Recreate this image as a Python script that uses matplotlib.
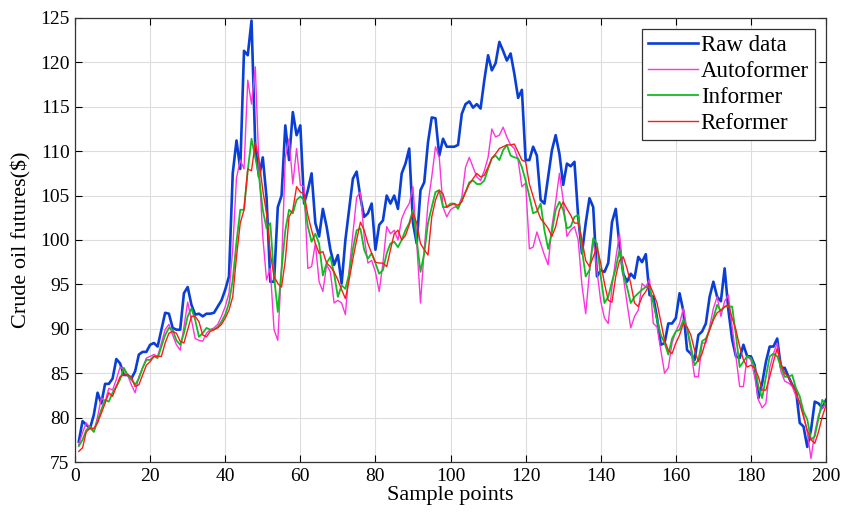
import matplotlib
matplotlib.use("Agg")
import matplotlib.pyplot as plt
import numpy as np

sample = list(range(1, 201))

raw = [
77.3, 79.6, 79.2, 78.8, 80.3, 82.8, 81.6, 83.8, 83.8, 84.4,
86.6, 86.1, 84.8, 84.8, 84.4, 85.2, 87.1, 87.4, 87.4, 88.2,
88.4, 88.0, 89.9, 91.8, 91.7, 90.1, 89.9, 89.9, 94.0, 94.7,
92.7, 91.6, 91.7, 91.4, 91.7, 91.7, 91.8, 92.5, 93.2, 94.4,
95.9, 107.5, 111.2, 108.0, 121.3, 120.8, 124.7, 110.5, 107.1, 109.3,
104.8, 95.3, 95.3, 103.7, 105.0, 112.9, 109.0, 114.4, 111.8, 112.9,
104.1, 105.6, 107.5, 101.9, 100.4, 103.5, 101.5, 98.9, 97.2, 98.3,
95.1, 100.0, 103.4, 106.9, 107.7, 104.8, 102.6, 103.0, 104.1, 98.9,
101.7, 102.2, 105.0, 104.1, 105.0, 103.5, 107.5, 108.6, 110.3, 101.9,
99.6, 105.6, 106.5, 111.0, 113.8, 113.7, 109.5, 111.4, 110.5, 110.5,
110.5, 110.7, 114.2, 115.3, 115.6, 114.9, 115.3, 114.8, 118.0, 120.8,
119.1, 119.9, 122.3, 121.3, 120.2, 121.0, 118.7, 116.0, 116.9, 109.0,
109.0, 110.5, 109.5, 104.5, 104.1, 107.1, 110.1, 111.8, 109.7, 106.2,
108.6, 108.3, 108.8, 102.6, 98.5, 101.9, 104.7, 103.7, 95.9, 96.6,
96.4, 97.4, 102.0, 103.5, 99.4, 96.2, 95.3, 96.2, 95.7, 98.1,
97.5, 98.4, 93.8, 93.6, 91.2, 88.2, 88.4, 90.6, 90.6, 91.2,
94.0, 92.0, 87.6, 87.2, 86.5, 89.3, 89.7, 90.6, 93.6, 95.3,
93.6, 93.1, 96.8, 92.1, 88.8, 86.9, 86.7, 88.2, 86.9, 86.9,
85.9, 82.2, 83.9, 86.3, 88.0, 88.0, 88.9, 85.6, 85.6, 84.6,
83.7, 83.1, 79.4, 79.0, 76.7, 78.6, 81.8, 81.6, 81.1, 82.0,
]

autoformer = [
77.0, 78.3, 79.4, 78.8, 78.4, 80.1, 82.2, 81.8, 83.3, 83.1,
84.3, 85.7, 85.4, 84.8, 83.7, 82.8, 84.6, 85.6, 86.7, 86.9,
87.1, 86.9, 88.4, 89.9, 90.5, 89.3, 88.2, 87.6, 90.2, 93.0,
91.0, 88.9, 88.7, 88.6, 89.5, 89.9, 90.1, 90.5, 91.4, 92.5,
94.0, 99.0, 107.0, 109.0, 108.0, 118.0, 115.3, 119.5, 108.2, 100.4,
95.5, 96.8, 89.9, 88.7, 97.0, 109.3, 111.4, 106.3, 110.3, 106.2,
106.0, 96.8, 97.0, 99.6, 95.3, 94.2, 97.2, 96.4, 92.9, 93.2,
92.9, 91.6, 96.6, 100.7, 104.8, 105.4, 100.4, 97.4, 97.7, 96.4,
94.2, 97.4, 101.5, 100.7, 101.1, 100.0, 102.4, 103.4, 104.1, 106.0,
99.6, 92.9, 98.9, 104.1, 107.1, 110.5, 109.3, 103.7, 102.6, 103.4,
103.7, 103.7, 104.8, 108.2, 109.3, 108.2, 107.1, 106.7, 107.8, 109.3,
112.5, 111.6, 111.8, 112.7, 111.6, 110.7, 110.3, 109.0, 106.0, 106.4,
99.0, 99.2, 100.9, 99.6, 98.3, 97.2, 101.5, 104.3, 107.5, 104.5,
100.4, 101.1, 101.5, 100.0, 94.9, 91.7, 96.4, 100.0, 96.6, 93.1,
91.2, 90.6, 94.7, 97.9, 100.7, 95.9, 92.9, 90.1, 91.4, 92.1,
95.1, 94.7, 95.6, 90.6, 90.2, 87.6, 85.0, 85.6, 88.4, 89.7,
90.6, 92.3, 89.9, 87.6, 84.6, 84.6, 88.4, 88.4, 90.2, 92.3,
93.6, 91.4, 93.1, 93.8, 90.2, 86.9, 83.5, 83.5, 86.9, 86.5,
84.6, 82.0, 81.1, 81.6, 85.6, 87.2, 88.4, 85.2, 84.1, 83.9,
83.5, 82.4, 81.8, 80.3, 78.3, 75.4, 78.3, 80.3, 81.1, 81.6,
]

informer = [
76.8, 77.5, 78.6, 79.0, 78.4, 79.6, 80.9, 82.0, 81.8, 82.8,
83.5, 84.3, 85.6, 84.8, 84.3, 83.7, 84.4, 85.6, 86.5, 86.5,
86.9, 86.7, 88.0, 89.3, 90.1, 89.9, 88.7, 88.2, 89.5, 91.4,
92.3, 91.0, 89.1, 89.5, 90.1, 89.9, 89.9, 90.2, 90.8, 91.6,
92.9, 95.5, 99.8, 103.4, 103.4, 107.8, 111.4, 109.3, 107.1, 103.4,
101.3, 101.9, 95.9, 91.9, 96.6, 101.1, 103.4, 103.0, 104.5, 104.9,
104.5, 101.5, 99.8, 100.7, 99.6, 96.0, 97.4, 98.1, 96.2, 93.6,
94.9, 94.5, 96.2, 99.0, 101.1, 101.3, 98.9, 97.9, 98.5, 97.4,
96.2, 96.6, 98.5, 99.6, 99.8, 99.2, 100.0, 101.1, 101.9, 103.4,
100.0, 96.4, 98.5, 101.9, 103.7, 105.4, 105.6, 103.7, 103.7, 104.1,
104.1, 103.5, 104.5, 105.4, 106.5, 106.7, 106.3, 106.3, 106.7, 108.0,
109.2, 109.5, 109.0, 110.1, 110.7, 109.5, 109.3, 109.2, 108.2, 106.7,
104.9, 103.0, 103.2, 104.1, 101.1, 99.0, 100.9, 103.4, 104.3, 103.4,
101.3, 101.5, 102.6, 102.8, 98.9, 95.9, 96.6, 100.2, 99.6, 95.9,
92.9, 93.6, 95.3, 96.8, 98.9, 96.2, 94.7, 92.9, 93.6, 94.0,
94.4, 94.7, 94.7, 92.9, 91.0, 89.3, 88.4, 87.1, 88.9, 89.7,
89.9, 91.0, 90.1, 88.0, 85.9, 86.5, 88.6, 88.9, 89.9, 91.2,
92.7, 92.0, 92.5, 92.5, 92.5, 89.3, 85.7, 86.3, 86.9, 86.7,
85.7, 83.5, 82.2, 84.6, 86.9, 87.2, 86.9, 85.7, 84.6, 84.6,
84.8, 83.3, 82.4, 80.7, 79.8, 77.5, 77.9, 79.9, 82.0, 81.4,
]

reformer = [
76.2, 76.6, 78.4, 78.8, 78.8, 79.4, 80.5, 81.6, 82.8, 82.4,
83.5, 84.6, 84.8, 84.8, 84.6, 83.5, 83.7, 84.8, 85.9, 86.3,
86.9, 86.9, 86.9, 88.4, 89.5, 89.7, 89.5, 88.6, 88.4, 89.9,
91.4, 91.4, 90.8, 89.3, 89.1, 89.7, 89.9, 90.1, 90.5, 91.2,
92.1, 93.6, 98.1, 101.9, 103.4, 108.0, 107.8, 111.0, 109.0, 105.6,
103.0, 98.5, 95.9, 95.1, 94.7, 97.7, 102.6, 103.4, 106.0, 105.4,
105.2, 102.8, 101.1, 99.6, 98.5, 98.7, 97.4, 97.0, 96.4, 95.5,
94.4, 93.4, 95.5, 97.9, 100.0, 102.0, 101.1, 99.6, 98.5, 97.5,
97.4, 97.4, 97.0, 98.9, 100.7, 101.1, 100.0, 100.5, 101.7, 103.0,
101.9, 99.6, 98.9, 98.3, 102.6, 104.5, 105.6, 105.2, 103.7, 103.9,
104.1, 103.9, 104.3, 105.4, 106.3, 106.9, 107.5, 107.1, 107.3, 108.2,
109.2, 109.7, 110.3, 110.5, 110.7, 110.7, 110.8, 109.9, 109.0, 108.8,
106.3, 104.9, 103.5, 102.4, 101.9, 101.3, 100.4, 101.5, 103.4, 104.3,
103.5, 102.8, 101.9, 101.9, 100.0, 97.7, 97.0, 98.1, 99.2, 97.4,
95.1, 93.2, 93.0, 95.9, 97.7, 98.1, 96.8, 95.1, 92.9, 92.5,
93.6, 94.2, 95.0, 94.0, 92.9, 90.8, 88.7, 87.6, 87.2, 88.4,
89.3, 90.6, 90.2, 89.3, 87.6, 86.3, 87.2, 88.7, 89.9, 91.0,
91.8, 92.1, 92.5, 92.7, 91.2, 89.9, 88.0, 86.5, 85.7, 85.9,
85.6, 84.6, 83.1, 83.1, 84.6, 86.3, 87.8, 86.1, 85.0, 84.6,
83.7, 82.9, 81.6, 80.1, 78.6, 77.5, 77.1, 78.4, 80.1, 81.4,
]

series_names = ["Raw data", "Autoformer", "Informer", "Reformer"]
xticks = list(range(0, 201, 20))
yticks = list(range(75, 126, 5))

plt.rcParams['font.family'] = ['Liberation Serif', 'DejaVu Serif']

fig = plt.figure(figsize=(8.44, 5.2), dpi=100)
ax = fig.add_axes([0.0889, 0.1115, 0.8898, 0.854])

ax.plot(sample, raw, color='#0a3fd6', lw=1.9, label=series_names[0], zorder=3)
ax.plot(sample, autoformer, color='#ff33dd', lw=1.0, label=series_names[1], zorder=4)
ax.plot(sample, informer, color='#11bb22', lw=1.3, label=series_names[2], zorder=5)
ax.plot(sample, reformer, color='#ff1a1a', lw=1.0, label=series_names[3], zorder=6)

ax.set_xlim(0, 200)
ax.set_ylim(75, 125)
ax.set_xticks(xticks)
ax.set_yticks(yticks)
ax.grid(True, color='#dddddd', lw=0.8)
ax.set_axisbelow(True)
ax.tick_params(direction='in', top=True, right=True, labelsize=14, length=5, width=0.8, pad=4)
for s in ax.spines.values():
    s.set_linewidth(0.9)
    s.set_color('#333333')

ax.set_xlabel("Sample points", fontsize=16, labelpad=1)
ax.set_ylabel("Crude oil futures($)", fontsize=16, labelpad=6)

leg = ax.legend(loc='upper right', fontsize=16.5, frameon=True, fancybox=False,
                edgecolor='#333333', framealpha=1, borderpad=0.25, labelspacing=0.22,
                handlelength=2.2, handletextpad=0.1, borderaxespad=0.5)
leg.get_frame().set_linewidth(0.9)

fig.savefig("out.png", dpi=100)
